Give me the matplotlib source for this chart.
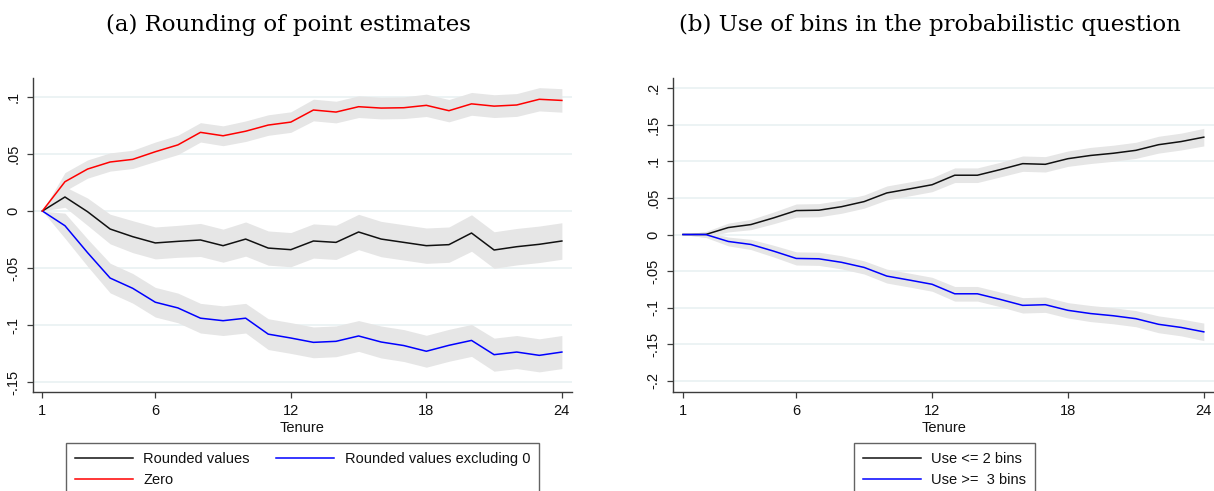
import matplotlib.pyplot as plt

# datos (tenure 1..24)
tenure = list(range(1, 25))

# panel (a): redondeo de estimaciones puntuales
rounded = [0, 0.0123, -0.0006, -0.0158, -0.0225, -0.0280, -0.0266, -0.0254, -0.0304, -0.0246,
           -0.0325, -0.0339, -0.0263, -0.0275, -0.0184, -0.0246, -0.0275, -0.0304, -0.0295, -0.0193,
           -0.0342, -0.0313, -0.0292, -0.0263]
rounded_ci = [0, .009, .012, .013, .014, .014, .014, .0145, .0145, .015, .015, .015,
              .015, .015, .0155, .0155, .0155, .0155, .0155, .016, .016, .016, .016, .016]
zero = [0, 0.0257, 0.0368, 0.0430, 0.0453, 0.0520, 0.0580, 0.0690, 0.0660, 0.0700,
        0.0754, 0.0780, 0.0886, 0.0868, 0.0915, 0.0903, 0.0906, 0.0927, 0.0880, 0.0940,
        0.0920, 0.0930, 0.0980, 0.0970]
zero_ci = [0, .008, .008, .008, .008, .0085, .0085, .0085, .0087, .009, .009, .009,
           .0095, .0095, .0095, .0095, .0095, .0098, .0098, .01, .01, .01, .0102, .0103]
excl0 = [0, -0.0129, -0.0365, -0.0588, -0.0678, -0.0800, -0.0850, -0.0940, -0.0962, -0.0940,
         -0.1080, -0.1114, -0.1152, -0.1143, -0.1096, -0.1149, -0.1180, -0.1230, -0.1178, -0.1135,
         -0.1260, -0.1237, -0.1266, -0.1237]
excl0_ci = [0, .011, .012, .013, .013, .013, .013, .013, .013, .013, .0135, .0135,
            .0135, .0135, .0135, .014, .014, .014, .014, .014, .0145, .0145, .0145, .0145]

# panel (b): uso de bins en la pregunta probabilistica
le2 = [0, 0, 0.0095, 0.0136, 0.0227, 0.0327, 0.0332, 0.0380, 0.0450, 0.0568,
       0.0623, 0.0680, 0.0810, 0.0810, 0.0886, 0.0968, 0.0959, 0.1036, 0.1080, 0.1110,
       0.1150, 0.1227, 0.1270, 0.1330]
ge3 = [0, 0, -0.0095, -0.0136, -0.0227, -0.0327, -0.0332, -0.0380, -0.0450, -0.0568,
       -0.0623, -0.0680, -0.0810, -0.0810, -0.0886, -0.0968, -0.0959, -0.1036, -0.1080, -0.1110,
       -0.1150, -0.1227, -0.1270, -0.1330]
bins_ci = [0, .004, .006, .007, .008, .009, .009, .009, .009, .0095, .0095, .0095,
           .01, .01, .01, .0105, .0105, .0105, .011, .011, .011, .0115, .0115, .012]

xticks = [1, 6, 12, 18, 24]
yticks_a = [0.1, 0.05, 0, -0.05, -0.1, -0.15]
ylabels_a = ['.1', '.05', '0', '-.05', '-.1', '-.15']
yticks_b = [0.2, 0.15, 0.1, 0.05, 0, -0.05, -0.1, -0.15, -0.2]
ylabels_b = ['.2', '.15', '.1', '.05', '0', '-.05', '-.1', '-.15', '-.2']

plt.rcParams['font.family'] = ['Liberation Sans', 'DejaVu Sans']
band = '#e6e6e6'
spine = '#3c3c3c'

fig = plt.figure(figsize=(12.14, 4.91), dpi=100)
ax1 = fig.add_axes([0.0269, 0.2022, 0.4443, 0.6383])
ax2 = fig.add_axes([0.5546, 0.2022, 0.4454, 0.6383])


def estilo(ax, yt, yl, ylim):
    ax.set_xlim(0.57, 24.45)
    ax.set_ylim(ylim)
    ax.set_xticks(xticks)
    ax.set_yticks(yt)
    ax.set_yticklabels(yl, rotation=90, va='center')
    for y in yt:
        ax.axhline(y, color='#eaf2f3', lw=1.3, zorder=0)
    for s in ['top', 'right']:
        ax.spines[s].set_visible(False)
    for s in ['left', 'bottom']:
        ax.spines[s].set_color(spine)
        ax.spines[s].set_linewidth(1.0)
    ax.tick_params(length=4.5, width=0.9, color=spine, labelsize=10.5, labelcolor='#111111', pad=4.5)
    ax.set_xlabel('Tenure', fontsize=10.5, labelpad=2, color='#111111')


def serie(ax, y, ci, color, label):
    lo = [a - b for a, b in zip(y, ci)]
    hi = [a + b for a, b in zip(y, ci)]
    ax.fill_between(tenure, lo, hi, color=band, lw=0, zorder=1)
    return ax.plot(tenure, y, color=color, lw=1.1, label=label, zorder=3)[0]


# panel (a)
h1 = serie(ax1, rounded, rounded_ci, '#111111', 'Rounded values')
h2 = serie(ax1, excl0, excl0_ci, '#0000ff', 'Rounded values excluding 0')
h3 = serie(ax1, zero, zero_ci, '#ff0000', 'Zero')
estilo(ax1, yticks_a, ylabels_a, (-0.1585, 0.1164))

# panel (b)
g1 = serie(ax2, le2, bins_ci, '#111111', 'Use <= 2 bins')
g2 = serie(ax2, ge3, bins_ci, '#0000ff', 'Use >=  3 bins')
estilo(ax2, yticks_b, ylabels_b, (-0.2148, 0.2134))

# titulos en serif
serif = ['DejaVu Serif']
fig.text(288.5 / 1214, 1 - 25 / 491, '(a) Rounding of point estimates',
         ha='center', va='center', fontsize=16.5, family=serif)
fig.text(929.5 / 1214, 1 - 25 / 491, '(b) Use of bins in the probabilistic question',
         ha='center', va='center', fontsize=16.5, family=serif)

# leyendas (estilo stata, orden por filas)
kw = dict(fontsize=10.5, frameon=True, fancybox=False, handlelength=4.0, handletextpad=0.7,
          borderpad=0.6, labelspacing=0.5, borderaxespad=0)
leg1 = fig.legend([h1, h3, h2], ['Rounded values', 'Zero', 'Rounded values excluding 0'],
                  ncol=2, columnspacing=1.8, loc='upper left',
                  bbox_to_anchor=(66 / 1214, 1 - 443 / 491), **kw)
leg2 = fig.legend([g1, g2], ['Use <= 2 bins', 'Use >=  3 bins'], loc='upper left',
                  bbox_to_anchor=(854 / 1214, 1 - 443 / 491), **kw)
for lg in [leg1, leg2]:
    lg.get_frame().set_edgecolor(spine)
    lg.get_frame().set_linewidth(1.0)
    for t in lg.get_texts():
        t.set_color('#111111')

fig.savefig('out.png', dpi=100)
